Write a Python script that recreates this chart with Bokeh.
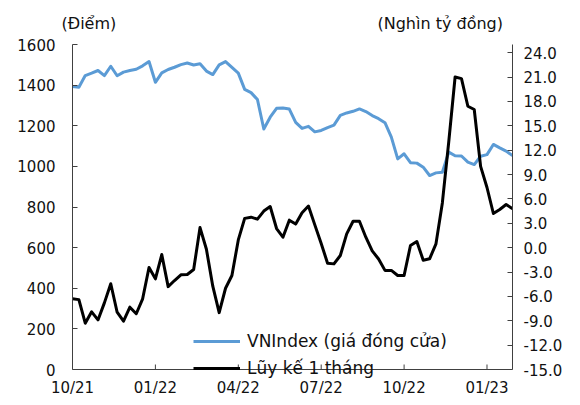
from bokeh.plotting import figure
from bokeh.models import (LinearAxis, Range1d, FixedTicker, NumeralTickFormatter,
                          Legend, LegendItem, Label, Span)
from bokeh.embed import file_html
from bokeh.resources import INLINE

# ---- data ----
tick_labels = ["10/21", "01/22", "04/22", "07/22", "10/22", "01/23"]
weeks_per_tick = 13

vnindex = [1393, 1390, 1447, 1459, 1472, 1447, 1493, 1446, 1464, 1472,
           1478, 1495, 1516, 1414, 1460, 1477, 1488, 1501, 1509, 1499,
           1505, 1469, 1452, 1500, 1516, 1487, 1459, 1379, 1363, 1329,
           1184, 1242, 1286, 1287, 1282, 1217, 1187, 1197, 1170, 1177,
           1191, 1203, 1251, 1263, 1271, 1283, 1270, 1250, 1235, 1215,
           1144, 1037, 1062, 1018, 1016, 996, 955, 968, 971, 1070,
           1052, 1051, 1021, 1009, 1050, 1058, 1108, 1091, 1075, 1053]

net_1m = [-6.3, -6.4, -9.3, -7.9, -8.9, -6.8, -4.45, -7.95, -9.06, -7.33,
          -8.14, -6.3, -2.45, -3.84, -0.85, -4.8, -4.05, -3.35, -3.31, -2.69,
          2.47, -0.2, -4.75, -8.0, -5.0, -3.43, 0.95, 3.6, 3.75, 3.5,
          4.5, 5.06, 2.35, 1.28, 3.38, 2.9, 4.3, 5.12, 2.8, 0.5,
          -1.92, -2.0, -0.97, 1.7, 3.25, 3.25, 1.28, -0.4, -1.4, -2.8,
          -2.8, -3.43, -3.43, 0.26, 0.75, -1.55, -1.38, 0.47, 5.5, 13.0,
          21.0, 20.8, 17.4, 17.0, 10.0, 7.4, 4.2, 4.7, 5.3, 4.8]

left_ticks = [0, 200, 400, 600, 800, 1000, 1200, 1400, 1600]
right_ticks = [-15, -12, -9, -6, -3, 0, 3, 6, 9, 12, 15, 18, 21, 24]
left_lim = (0, 1600)
right_lim = (-15, 25)
left_title = "(Điểm)"
right_title = "(Nghìn tỷ đồng)"
series_names = ["VNIndex (giá đóng cửa)", "Lũy kế 1 tháng"]

# ---- layout (pixels) ----
W = 572
HEAD_H = 36          # strip holding the two unit titles
AX_L, AX_R = 72, 512
AX_T, AX_B = 44, 369  # plot box of the value axes
FRAME_B = 378         # frame goes a little below the x axis (legend room)

x = list(range(len(vnindex)))
n_last = len(x) - 1
ppu_l = (AX_B - AX_T) / (left_lim[1] - left_lim[0])
ppu_r = (AX_B - AX_T) / (right_lim[1] - right_lim[0])

FONT = "DejaVu Sans"
FS = "15px"
FS_TITLE = "16px"
FS_LEG = "17px"
AX = "#404040"
TXT = "#111111"

# ---- title strip (separate root, so its frame is not aligned to the chart) ----
head = figure(width=W, height=HEAD_H, x_range=Range1d(0, W), y_range=Range1d(0, HEAD_H),
              x_axis_type=None, y_axis_type=None, output_backend="svg",
              toolbar_location=None, min_border=0,
              min_border_left=0, min_border_right=0,
              min_border_top=0, min_border_bottom=0)
head.outline_line_color = None
head.xgrid.visible = False
head.ygrid.visible = False
head.add_layout(Label(x=61, y=HEAD_H - 23, text=left_title, text_font=FONT,
                      text_font_size=FS_TITLE, text_baseline="middle", text_align="left",
                      text_color=TXT))
head.add_layout(Label(x=377, y=HEAD_H - 23, text=right_title, text_font=FONT,
                      text_font_size=FS_TITLE, text_baseline="middle", text_align="left",
                      text_color=TXT))

# ---- main chart ----
p = figure(frame_width=AX_R - AX_L, frame_height=FRAME_B - AX_T,
           x_range=Range1d(0, n_last),
           y_range=Range1d(left_lim[0] - (FRAME_B - AX_B) / ppu_l, left_lim[1]),
           output_backend="svg", toolbar_location=None,
           min_border_left=AX_L, min_border_right=W - AX_R,
           min_border_top=AX_T - HEAD_H, min_border_bottom=0)
p.extra_y_ranges = {"right": Range1d(right_lim[0] - (FRAME_B - AX_B) / ppu_r, right_lim[1])}
p.outline_line_color = None
p.xgrid.visible = False
p.ygrid.visible = False

def style(ax):
    ax.axis_line_color = AX
    ax.axis_line_width = 1
    ax.major_tick_line_color = AX
    ax.major_tick_in = 5
    ax.major_tick_out = 0
    ax.minor_tick_line_color = None
    ax.major_label_text_font = FONT
    ax.major_label_text_font_size = FS
    ax.major_label_text_color = TXT

# bottom axis: only its labels (line and ticks drawn at the value 0 below)
xa = p.xaxis[0]
style(xa)
tick_pos = [k * weeks_per_tick for k in range(len(tick_labels))]
xa.ticker = FixedTicker(ticks=tick_pos)
xa.major_label_overrides = {t: lab for t, lab in zip(tick_pos, tick_labels)}
xa.major_label_standoff = 0
xa.axis_line_color = None
xa.major_tick_line_color = None

# left axis
ya = p.yaxis[0]
style(ya)
ya.ticker = FixedTicker(ticks=left_ticks)
ya.major_label_standoff = 17
ya.bounds = left_lim

# right axis
ra = LinearAxis(y_range_name="right", ticker=FixedTicker(ticks=right_ticks),
                formatter=NumeralTickFormatter(format="0.0"), bounds=right_lim)
style(ra)
ra.major_label_standoff = 11
p.add_layout(ra, "right")

r_blue = p.line(x, vnindex, line_color="#5B9BD5", line_width=3, line_join="round")
r_black = p.line(x, net_1m, y_range_name="right", line_color="black",
                 line_width=3, line_join="round")

# x axis line and tick marks at value 0
p.add_layout(Span(location=left_lim[0], dimension="width", line_color=AX, line_width=1))
p.segment(x0=tick_pos, y0=[left_lim[0]] * len(tick_pos),
          x1=tick_pos, y1=[left_lim[0] + 5 / ppu_l] * len(tick_pos),
          line_color=AX, line_width=1)

legend = Legend(items=[LegendItem(label=series_names[0], renderers=[r_blue]),
                       LegendItem(label=series_names[1], renderers=[r_black])],
                location=(193 - AX_L, 0), orientation="vertical",
                background_fill_alpha=0, border_line_color=None,
                padding=0, margin=0, spacing=7,
                glyph_width=47, glyph_height=20, label_height=20,
                label_standoff=7, label_text_font=FONT,
                label_text_font_size=FS_LEG, label_text_color=TXT)
p.add_layout(legend)

open("out.html", "w").write(file_html([head, p], INLINE))
